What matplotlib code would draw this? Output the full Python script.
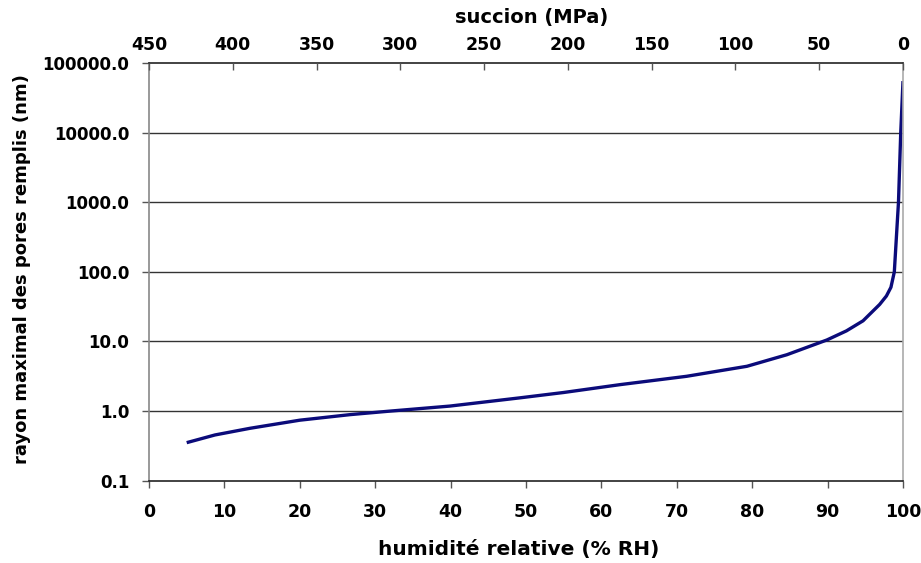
import matplotlib.pyplot as plt
from matplotlib.ticker import FixedLocator, FuncFormatter, NullLocator

# humidite relative (% RH) vs rayon maximal des pores remplis (nm)
rh = [5.0, 8.75, 13.4, 20.0, 26.7, 32.0, 39.9, 49.2, 55.0, 62.5, 71.3, 79.3,
      84.6, 89.9, 92.5, 94.7, 96.9, 97.8, 98.4, 98.85, 99.4, 99.7, 100.0]
rayon = [0.352, 0.454, 0.566, 0.74, 0.89, 1.0, 1.18, 1.55, 1.85, 2.40, 3.16, 4.4,
         6.45, 10.5, 14.2, 19.8, 34.0, 45.0, 60.0, 100.0, 1000.0, 10000.0, 55000.0]

rh_ticks = [0, 10, 20, 30, 40, 50, 60, 70, 80, 90, 100]
succion_ticks = [450, 400, 350, 300, 250, 200, 150, 100, 50, 0]
rayon_ticks = [0.1, 1, 10, 100, 1000, 10000, 100000]

plt.rcParams['font.family'] = ['DejaVu Sans']
plt.rcParams['font.weight'] = 'bold'

W, H = 921, 563
fig = plt.figure(figsize=(W / 100, H / 100), dpi=100)
ax = fig.add_axes([149 / W, 1 - 480.7 / H, (903 - 149) / W, (480.7 - 63) / H])

ax.plot(rh, rayon, color='#0b0b7a', lw=2.4, solid_capstyle='butt')
ax.set_yscale('log')
ax.set_xlim(0, 100)
ax.set_ylim(0.1, 100000)

ax.yaxis.set_major_locator(FixedLocator(rayon_ticks))
ax.yaxis.set_minor_locator(NullLocator())
ax.yaxis.set_major_formatter(FuncFormatter(lambda v, p: '%.1f' % v))
ax.set_xticks(rh_ticks)
for y in rayon_ticks[1:-1]:
    ax.axhline(y, color='#333333', lw=1.0, zorder=0)

ax.tick_params(axis='both', length=5, width=1, color='#555555')
ax.tick_params(axis='x', labelsize=12.5, pad=11)
ax.tick_params(axis='y', labelsize=12, pad=9)
for lab in ax.get_xticklabels() + ax.get_yticklabels():
    lab.set_fontweight('bold')

ax.spines['left'].set_color('#888888')
ax.spines['right'].set_color('#aaaaaa')
ax.spines['bottom'].set_color('#222222')
ax.spines['top'].set_color('#222222')
for s in ax.spines.values():
    s.set_linewidth(1.2)

top = ax.twiny()
top.set_xlim(450, 0)
top.set_xticks(succion_ticks)
top.tick_params(axis='x', direction='in', labelsize=12.5, length=5, width=1,
                color='#555555', pad=6.5)
for lab in top.get_xticklabels():
    lab.set_fontweight('bold')
for s in top.spines.values():
    s.set_visible(False)

fig.text(519 / W, 1 - 549 / H, 'humidité relative (% RH)', fontsize=14.5,
         fontweight='bold', ha='center', va='center')
fig.text(22 / W, 1 - 269 / H, 'rayon maximal des pores remplis (nm)', fontsize=13,
         fontweight='bold', ha='center', va='center', rotation=90)
fig.text(532 / W, 1 - 18 / H, 'succion (MPa)', fontsize=14,
         fontweight='bold', ha='center', va='center')

fig.savefig('out.png', dpi=100)
